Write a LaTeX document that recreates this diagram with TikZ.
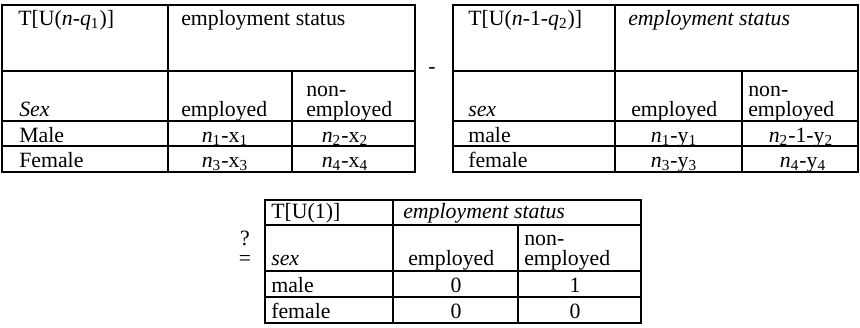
\documentclass[tikz,border=0pt]{standalone}
\usepackage{fontspec}
\setmainfont{Liberation Serif}
\usepackage{tikz}
\def\nsub#1#2#3{\textit{n}\textsubscript{#1}-#2\textsubscript{#3}}

\begin{document}
\begin{tikzpicture}[x=0.5pt, y=-0.5pt, line width=1.3pt,
		txt/.style={anchor=base west, inner sep=0pt, font=\fontsize{10.9}{13}\selectfont},
		val/.style={anchor=base, inner sep=0pt, font=\fontsize{10.9}{13}\selectfont}]
		%%%%% START %%%%%
		\useasboundingbox (0, 0) rectangle (860, 327);
		
		% table one
		\draw (2, 5) rectangle (415, 172);
		\draw (2, 71) -- (415, 71);
		\draw (2, 121) -- (415, 121);
		\draw (2, 146) -- (415, 146);
		\draw (168, 5) -- (168, 172);
		\draw (292, 71) -- (292, 172);
		
		\node[txt] (aT) at (17, 25) {T[U(\textit{n}-\textit{q}\textsubscript{1})]};
		\node[txt] (aStatus) at (180, 25) {employment status};
		\node[txt] (aSex) at (18, 116) {\textit{Sex}};
		\node[txt] (aEmp) at (180, 116) {employed};
		\node[txt] (aNon) at (305, 96) {non-};
		\node[txt] (aNonEmp) at (305, 116) {employed};
		\node[txt] (aMale) at (18, 142) {Male};
		\node[txt] (aFemale) at (18, 167) {Female};
		\node[val] (aOne) at (225, 142) {\nsub{1}{x}{1}};
		\node[val] (aTwo) at (345, 142) {\nsub{2}{x}{2}};
		\node[val] (aThree) at (225, 167) {\nsub{3}{x}{3}};
		\node[val] (aFour) at (345, 167) {\nsub{4}{x}{4}};
		
		\node[val] (minus) at (432, 73) {-};
		
		% table two
		\draw (453, 5) rectangle (858, 172);
		\draw (453, 71) -- (858, 71);
		\draw (453, 121) -- (858, 121);
		\draw (453, 146) -- (858, 146);
		\draw (615, 5) -- (615, 172);
		\draw (742, 71) -- (742, 172);
		
		\node[txt] (bT) at (467, 25) {T[U(\textit{n}-1-\textit{q}\textsubscript{2})]};
		\node[txt] (bStatus) at (627, 25) {\textit{employment status}};
		\node[txt] (bSex) at (467, 116) {\textit{sex}};
		\node[txt] (bEmp) at (630, 116) {employed};
		\node[txt] (bNon) at (747, 96) {non-};
		\node[txt] (bNonEmp) at (747, 116) {employed};
		\node[txt] (bMale) at (467, 142) {male};
		\node[txt] (bFemale) at (467, 167) {female};
		\node[val] (bOne) at (674, 142) {\nsub{1}{y}{1}};
		\node[val] (bTwo) at (801, 142) {\textit{n}\textsubscript{2}-1-y\textsubscript{2}};
		\node[val] (bThree) at (674, 167) {\nsub{3}{y}{3}};
		\node[val] (bFour) at (803, 167) {\nsub{4}{y}{4}};
		
		% table three
		\draw (265, 200) rectangle (641, 323);
		\draw (265, 225) -- (641, 225);
		\draw (265, 271) -- (641, 271);
		\draw (265, 297) -- (641, 297);
		\draw (393, 200) -- (393, 323);
		\draw (518, 225) -- (518, 323);
		
		\node[val] (quest) at (245, 245) {?};
		\node[val] (equal) at (245, 265) {=};
		
		\node[txt] (cT) at (270, 218) {T[U(1)]};
		\node[txt] (cStatus) at (402, 218) {\textit{employment status}};
		\node[txt] (cSex) at (270, 265) {\textit{sex}};
		\node[txt] (cEmp) at (407, 265) {employed};
		\node[txt] (cNon) at (523, 245) {non-};
		\node[txt] (cNonEmp) at (523, 265) {employed};
		\node[txt] (cMale) at (270, 292) {male};
		\node[txt] (cFemale) at (270, 318) {female};
		\node[val] (cOne) at (456, 292) {0};
		\node[val] (cTwo) at (575, 292) {1};
		\node[val] (cThree) at (456, 318) {0};
		\node[val] (cFour) at (575, 318) {0};
		%%%%% END %%%%%
	\end{tikzpicture}
\end{document}
